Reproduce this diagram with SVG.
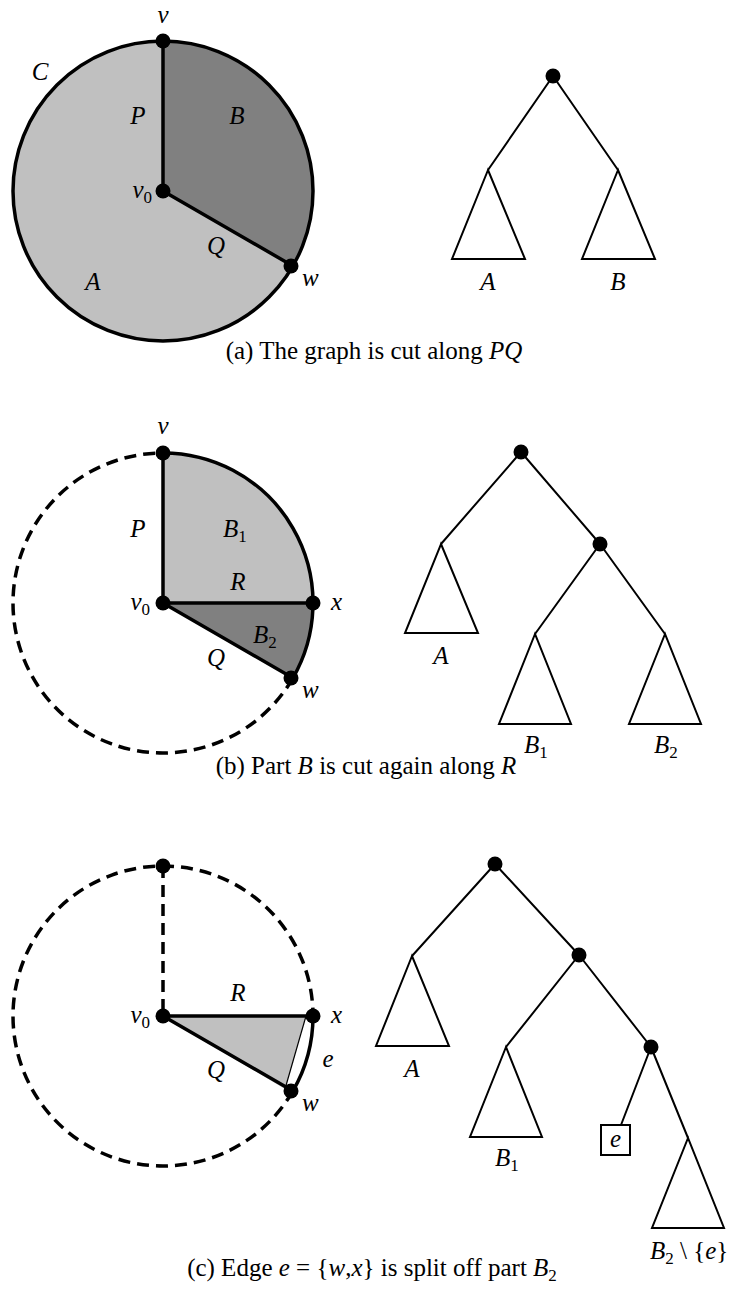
<svg xmlns="http://www.w3.org/2000/svg" width="733" height="1297" viewBox="0 0 733 1297">
<style>
.lbl{font-family:"Liberation Serif","Times New Roman",serif;font-size:25px;font-style:italic;fill:#000}
.cap{font-family:"Liberation Serif","Times New Roman",serif;font-size:25px;fill:#000}
.it{font-style:italic}
.up{font-style:normal}
.sub{font-size:17px;font-style:normal}
.thick{stroke:#000;stroke-width:3.5;fill:none}
.dash{stroke-dasharray:12 7}
.thin{stroke:#000;stroke-width:2;fill:none}
.light{fill:#c0c0c0}
.dark{fill:#808080}
.dot{fill:#000}
</style>
<rect width="733" height="1297" fill="#fff"/>

<!-- Panel (a) graph -->
<g id="panelA-graph">
  <circle cx="163" cy="191" r="150" class="light"/>
  <path d="M163,191 L163,41 A150,150 0 0 1 292.9,266 Z" class="dark"/>
  <circle cx="163" cy="191" r="150" class="thick"/>
  <path d="M163,41 L163,191 L292.9,266" class="thick"/>
</g>
<g id="a-v"><circle cx="163" cy="41" r="7.5" class="dot"/><text x="163" y="23" text-anchor="middle" class="lbl">v</text></g>
<g id="a-v0"><circle cx="163" cy="191" r="7.5" class="dot"/><text x="152" y="198" text-anchor="end" class="lbl">v<tspan class="sub" dy="5">0</tspan></text></g>
<g id="a-w"><circle cx="291" cy="266" r="7.5" class="dot"/><text x="302" y="286" class="lbl">w</text></g>
<g id="a-labels">
  <text x="40" y="80" text-anchor="middle" class="lbl">C</text>
  <text x="138" y="124" text-anchor="middle" class="lbl">P</text>
  <text x="237" y="124" text-anchor="middle" class="lbl">B</text>
  <text x="216" y="254" text-anchor="middle" class="lbl">Q</text>
  <text x="93" y="290" text-anchor="middle" class="lbl">A</text>
</g>

<!-- Panel (a) tree -->
<g id="a-tree-connectors">
  <path d="M553,76 L488,170 M553,76 L618,170" class="thin"/>
</g>
<g id="a-tree-root"><circle cx="553" cy="76" r="7.5" class="dot"/></g>
<g id="a-tree-A"><path d="M488,170 L452,259 L525,259 Z" class="thin"/><text x="488" y="290" text-anchor="middle" class="lbl">A</text></g>
<g id="a-tree-B"><path d="M618,170 L582,259 L655,259 Z" class="thin"/><text x="618" y="290" text-anchor="middle" class="lbl">B</text></g>

<text id="cap-a" x="374" y="359" text-anchor="middle" class="cap">(a) The graph is cut along <tspan class="it">PQ</tspan></text>

<!-- Panel (b) graph -->
<g id="panelB-graph">
  <path d="M163,603 L163,453 A150,150 0 0 1 313,603 Z" class="light"/>
  <path d="M163,603 L313,603 A150,150 0 0 1 292.9,678 Z" class="dark"/>
  <path d="M292.9,678 A150,150 0 1 1 163,453" class="thick dash"/>
  <path d="M163,453 A150,150 0 0 1 292.9,678" class="thick"/>
  <path d="M163,453 L163,603 L313,603 M163,603 L292.9,678" class="thick"/>
</g>
<g id="b-v"><circle cx="163" cy="453" r="7.5" class="dot"/><text x="163" y="434" text-anchor="middle" class="lbl">v</text></g>
<g id="b-v0"><circle cx="163" cy="603" r="7.5" class="dot"/><text x="150" y="610" text-anchor="end" class="lbl">v<tspan class="sub" dy="5">0</tspan></text></g>
<g id="b-x"><circle cx="313" cy="603" r="7.5" class="dot"/><text x="331" y="610" class="lbl">x</text></g>
<g id="b-w"><circle cx="291" cy="678" r="7.5" class="dot"/><text x="302" y="698" class="lbl">w</text></g>
<g id="b-labels">
  <text x="138" y="537" text-anchor="middle" class="lbl">P</text>
  <text x="223" y="537" class="lbl">B<tspan class="sub" dy="5">1</tspan></text>
  <text x="238" y="590" text-anchor="middle" class="lbl">R</text>
  <text x="253" y="643" class="lbl">B<tspan class="sub" dy="5">2</tspan></text>
  <text x="216" y="666" text-anchor="middle" class="lbl">Q</text>
</g>

<!-- Panel (b) tree -->
<g id="b-tree-connectors">
  <path d="M521,452 L441,544 M521,452 L600,544 M600,544 L535,634 M600,544 L665,634" class="thin"/>
</g>
<g id="b-tree-root"><circle cx="521" cy="452" r="7.5" class="dot"/></g>
<g id="b-tree-n2"><circle cx="600" cy="544" r="7.5" class="dot"/></g>
<g id="b-tree-A"><path d="M441,544 L405,633 L478,633 Z" class="thin"/><text x="441" y="664" text-anchor="middle" class="lbl">A</text></g>
<g id="b-tree-B1"><path d="M535,634 L499,724 L571,724 Z" class="thin"/><text x="524" y="753" class="lbl">B<tspan class="sub" dy="5">1</tspan></text></g>
<g id="b-tree-B2"><path d="M665,634 L629,724 L701,724 Z" class="thin"/><text x="654" y="753" class="lbl">B<tspan class="sub" dy="5">2</tspan></text></g>

<text id="cap-b" x="366" y="774" text-anchor="middle" class="cap">(b) Part <tspan class="it">B</tspan> is cut again along <tspan class="it">R</tspan></text>

<!-- Panel (c) graph -->
<g id="panelC-graph">
  <path d="M163,1016 L306,1016 L285,1089 Z" class="light"/>
  <path d="M306,1016 L285,1089" stroke="#000" stroke-width="1.2"/>
  <path d="M292.9,1091 A150,150 0 1 1 313,1016" class="thick dash"/>
  <path d="M163,866 L163,1016" class="thick dash"/>
  <path d="M313,1016 A150,150 0 0 1 292.9,1091" class="thick"/>
  <path d="M313,1016 L163,1016 L292.9,1091" class="thick"/>
</g>
<g id="c-v"><circle cx="163" cy="866" r="7.5" class="dot"/></g>
<g id="c-v0"><circle cx="163" cy="1016" r="7.5" class="dot"/><text x="150" y="1023" text-anchor="end" class="lbl">v<tspan class="sub" dy="5">0</tspan></text></g>
<g id="c-x"><circle cx="313" cy="1016" r="7.5" class="dot"/><text x="331" y="1023" class="lbl">x</text></g>
<g id="c-w"><circle cx="291" cy="1091" r="7.5" class="dot"/><text x="302" y="1111" class="lbl">w</text></g>
<g id="c-labels">
  <text x="238" y="1001" text-anchor="middle" class="lbl">R</text>
  <text x="328" y="1067" text-anchor="middle" class="lbl">e</text>
  <text x="216" y="1078" text-anchor="middle" class="lbl">Q</text>
</g>

<!-- Panel (c) tree -->
<g id="c-tree-connectors">
  <path d="M495,864 L412,956 M495,864 L579,955 M579,955 L506,1047 M579,955 L651,1047 M651,1047 L621,1125 M651,1047 L688,1138" class="thin"/>
</g>
<g id="c-tree-root"><circle cx="495" cy="864" r="7.5" class="dot"/></g>
<g id="c-tree-n2"><circle cx="579" cy="955" r="7.5" class="dot"/></g>
<g id="c-tree-n3"><circle cx="651" cy="1047" r="7.5" class="dot"/></g>
<g id="c-tree-A"><path d="M412,956 L376,1046 L449,1046 Z" class="thin"/><text x="412" y="1077" text-anchor="middle" class="lbl">A</text></g>
<g id="c-tree-B1"><path d="M506,1047 L470,1137 L542,1137 Z" class="thin"/><text x="495" y="1166" class="lbl">B<tspan class="sub" dy="5">1</tspan></text></g>
<g id="c-tree-e"><rect x="601" y="1125" width="29" height="30" class="thin"/><text x="615.5" y="1147" text-anchor="middle" class="lbl">e</text></g>
<g id="c-tree-B2e"><path d="M688,1138 L652,1228 L724,1228 Z" class="thin"/><text x="650" y="1259" class="lbl">B<tspan class="sub" dy="5">2</tspan><tspan class="up" dy="-5"> \ {</tspan>e<tspan class="up">}</tspan></text></g>

<text id="cap-c" x="372" y="1276" text-anchor="middle" class="cap">(c) Edge <tspan class="it">e</tspan> = {<tspan class="it">w</tspan>,<tspan class="it">x</tspan>} is split off part <tspan class="it">B</tspan><tspan class="sub" dy="5">2</tspan></text>
</svg>
